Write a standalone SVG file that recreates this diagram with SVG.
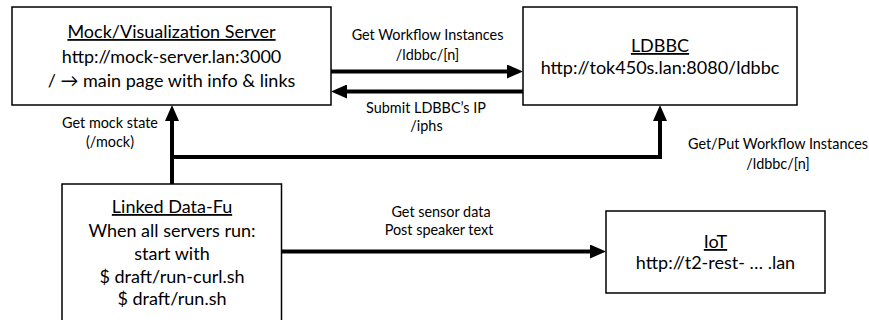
<svg xmlns="http://www.w3.org/2000/svg" width="869" height="320" viewBox="0 0 869 320">
<style>
  .box { fill: #ffffff; stroke: #000000; stroke-width: 1.5; }
  .conn { fill: none; stroke: #000000; stroke-width: 4; }
  .t { font-family: Lato, "Liberation Sans", sans-serif; font-size: 18px; fill: #000000; text-anchor: middle; }
  .u { text-decoration: underline; }
  .lbl { font-family: Lato, "Liberation Sans", sans-serif; font-size: 14.4px; fill: #000000; text-anchor: middle; }
</style>
<defs>
  <marker id="ah" markerUnits="userSpaceOnUse" markerWidth="16" markerHeight="14" viewBox="0 0 16 14" refX="2" refY="7" orient="auto">
    <path d="M0,0 L16,7 L0,14 z" fill="#000000"/>
  </marker>
</defs>
<rect width="869" height="320" fill="#ffffff"/>

<g id="connectors">
  <line class="conn" x1="331" y1="71.5" x2="509" y2="71.5" marker-end="url(#ah)"/>
  <line class="conn" x1="524" y1="91.5" x2="345" y2="91.5" marker-end="url(#ah)"/>
  <line class="conn" x1="172" y1="184" x2="172" y2="119" marker-end="url(#ah)"/>
  <path class="conn" d="M172,157 H660 V119" marker-end="url(#ah)"/>
  <line class="conn" x1="282" y1="251.5" x2="592" y2="251.5" marker-end="url(#ah)"/>
</g>

<g id="mock-server">
  <rect class="box" x="12" y="7" width="319" height="98"/>
  <text class="t u" x="171.5" y="38">Mock/Visualization Server</text>
  <text class="t" x="171.5" y="63">http://mock-server.lan:3000</text>
  <text class="t" x="171.5" y="87">/ → main page with info &amp; links</text>
</g>

<g id="ldbbc">
  <rect class="box" x="523" y="7" width="274" height="98"/>
  <text class="t u" x="660" y="52">LDBBC</text>
  <text class="t" x="660" y="74">http://tok450s.lan:8080/ldbbc</text>
</g>

<g id="linked-data-fu">
  <rect class="box" x="62" y="184" width="219.5" height="145"/>
  <text class="t u" x="172" y="213">Linked Data-Fu</text>
  <text class="t" x="172" y="236.5">When all servers run:</text>
  <text class="t" x="172" y="260">start with</text>
  <text class="t" x="172" y="283">$ draft/run-curl.sh</text>
  <text class="t" x="172" y="305">$ draft/run.sh</text>
</g>

<g id="iot">
  <rect class="box" x="606" y="211" width="219" height="82"/>
  <text class="t u" x="715.5" y="248">IoT</text>
  <text class="t" x="715.5" y="269">http://t2-rest- … .lan</text>
</g>

<g id="labels">
  <text class="lbl" x="427.5" y="40">Get Workflow Instances</text>
  <text class="lbl" x="427.5" y="59.5">/ldbbc/[n]</text>
  <text class="lbl" x="426" y="112.5">Submit LDBBC’s IP</text>
  <text class="lbl" x="426.5" y="130.5">/iphs</text>
  <text class="lbl" x="110" y="128">Get mock state</text>
  <text class="lbl" x="110" y="146.5">(/mock)</text>
  <text class="lbl" x="778" y="149">Get/Put Workflow Instances</text>
  <text class="lbl" x="778" y="169">/ldbbc/[n]</text>
  <text class="lbl" x="441" y="216.5">Get sensor data</text>
  <text class="lbl" x="439" y="235">Post speaker text</text>
</g>
</svg>
